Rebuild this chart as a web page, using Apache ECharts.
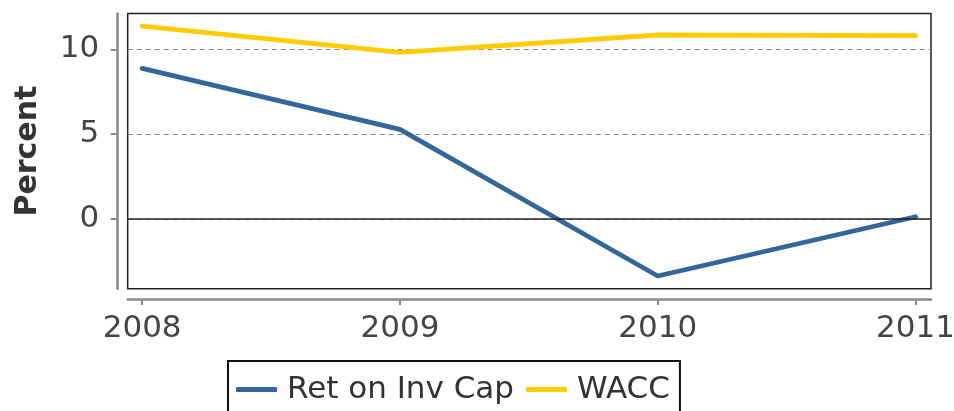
<!DOCTYPE html>
<html>
<head>
<meta charset="utf-8">
<script src="https://cdn.jsdelivr.net/npm/echarts@6/dist/echarts.min.js"></script>
<style>
  html, body { margin: 0; padding: 0; background: #fff; }
  #chart { width: 954px; height: 411px; }
</style>
</head>
<body>
<div id="chart"></div>
<script>
const years = [2008, 2009, 2010, 2011];
const retOnInvCap = [8.88, 5.28, -3.38, 0.12];
const wacc = [11.38, 9.82, 10.85, 10.81];
const yTicks = [0, 5, 10];

const font = 'DejaVu Sans';
const pairs = (vals) => years.map((y, i) => [y, vals[i]]);

const chart = echarts.init(document.getElementById('chart'));

chart.setOption({
    animation: false,
    textStyle: { fontFamily: font },
    grid: {
        left: 127.7, top: 13.5, right: 23, bottom: 122.3,
        show: true, borderColor: '#222', borderWidth: 1.5,
        containLabel: false,
        outerBoundsMode: 'none',
    },
    legend: {
        left: 228, top: 361,
        padding: [13, 10, 40, 8],
        borderColor: '#111', borderWidth: 2,
        itemWidth: 41, itemHeight: 5, itemGap: 12,
        icon: 'roundRect',
        textStyle: { fontFamily: font, fontSize: 31, color: '#333', padding: [0, 0, 0, 5] },
        data: ['Ret on Inv Cap', 'WACC'],
    },
    xAxis: {
        type: 'value',
        min: 2007.944, max: 2011.06,
        offset: 10.3,
        axisLine: { show: true, onZero: false, lineStyle: { color: '#888', width: 2.5 } },
        axisTick: { show: true, length: 6, lineStyle: { color: '#888', width: 2 }, customValues: years },
        axisLabel: { fontSize: 31, color: '#444', margin: 14, customValues: years, formatter: (v) => String(v) },
        splitLine: { show: false },
    },
    yAxis: {
        type: 'value',
        min: -4.13, max: 12.12,
        offset: 10.4,
        name: 'Percent',
        nameLocation: 'middle',
        nameRotate: 90,
        nameGap: 74,
        nameTextStyle: { fontFamily: font, fontSize: 30, fontWeight: 'bold', color: '#333' },
        axisLine: { show: true, onZero: false, lineStyle: { color: '#888', width: 2.5 } },
        axisTick: { show: true, length: 6.6, lineStyle: { color: '#888', width: 2 }, customValues: yTicks },
        axisLabel: { fontSize: 31, color: '#444', margin: 18, customValues: yTicks },
        splitLine: { show: true, lineStyle: { color: '#888', width: 1, type: [5, 4] } },
    },
    series: [
        {
            name: 'Ret on Inv Cap', type: 'line', data: pairs(retOnInvCap),
            symbol: 'none',
            lineStyle: { color: '#336699', width: 4.8, cap: 'round', join: 'round' },
            itemStyle: { color: '#336699' },
            markLine: {
                silent: true, symbol: 'none', label: { show: false },
                lineStyle: { color: '#222', width: 1.5, type: 'solid' },
                data: [{ yAxis: 0 }],
            },
            z: 3,
        },
        {
            name: 'WACC', type: 'line', data: pairs(wacc),
            symbol: 'none',
            lineStyle: { color: '#FFCC00', width: 4.8, cap: 'round', join: 'round' },
            itemStyle: { color: '#FFCC00' },
            z: 3,
        },
    ],
});
</script>
</body>
</html>
